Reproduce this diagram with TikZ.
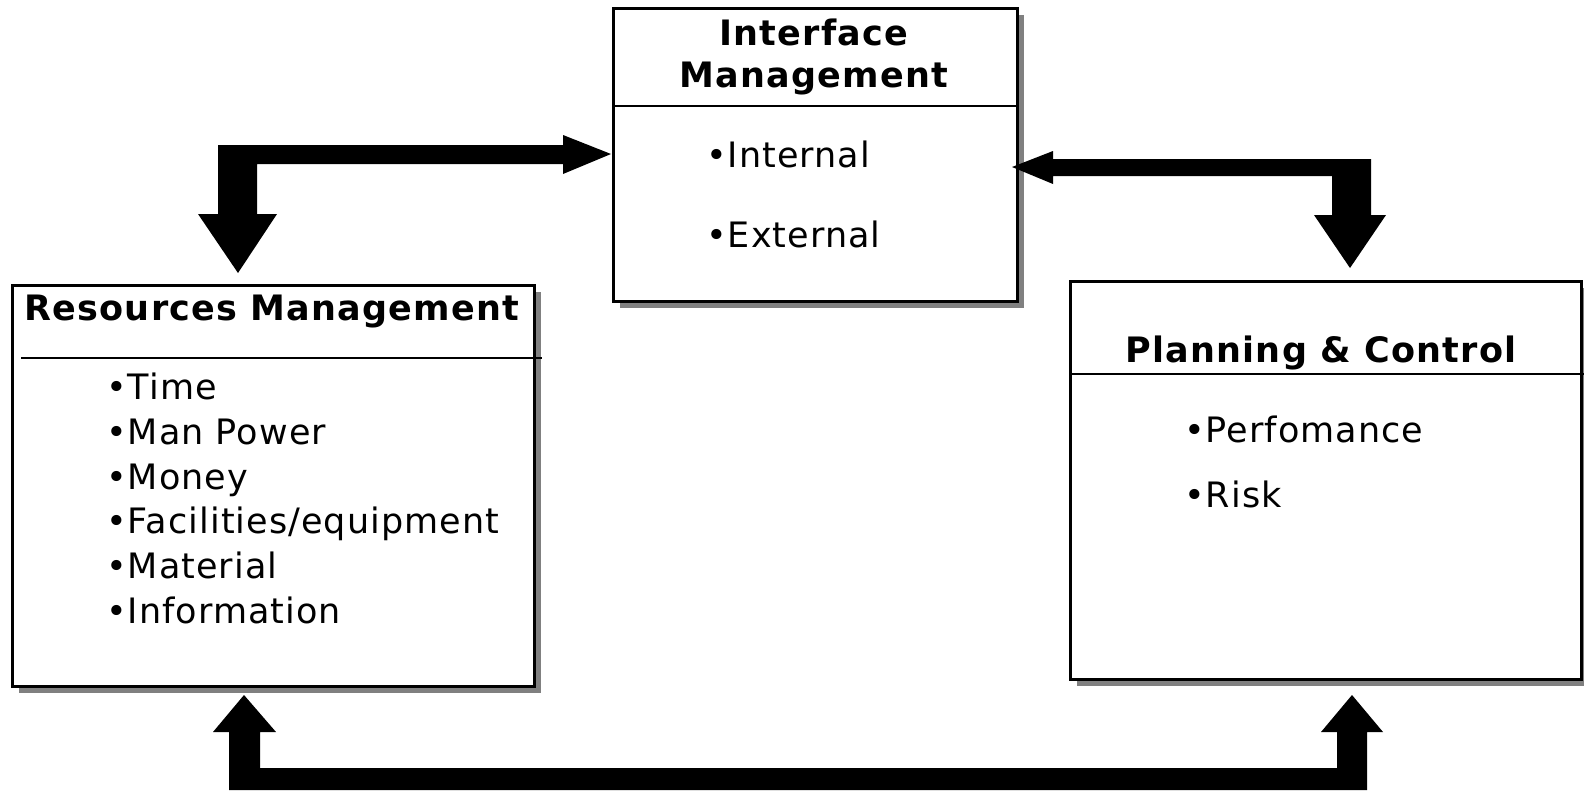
\documentclass[tikz,border=0pt]{standalone}
\usepackage{fontspec}
\setmainfont{DejaVu Sans}
\newfontfamily\itmfont[LetterSpace=3]{DejaVu Sans}
\newfontfamily\ttlfont[LetterSpace=3.5]{DejaVu Sans Bold}
\usetikzlibrary{shadows}
\begin{document}
\begin{tikzpicture}[x=1pt,y=-1pt,
  panel/.style={draw=black, line width=2.6pt, fill=white, inner sep=0pt, anchor=north west,
    drop shadow={shadow xshift=7pt, shadow yshift=-7pt, fill=black!50, opacity=1}},
  divider/.style={line width=2.2pt},
  blockarrow/.style={fill=black, draw=none},
  ttl/.style={font=\ttlfont\fontsize{35}{42}\selectfont, inner sep=0pt, anchor=base},
  itm/.style={font=\itmfont\fontsize{35}{45}\selectfont, inner sep=0pt, anchor=base west}]
\useasboundingbox (0,0) rectangle (1584,790);

% boxes
\node[panel, minimum width=404pt, minimum height=293pt] (im) at (612,7) {};
\node[panel, minimum width=522pt, minimum height=401pt] (rm) at (11,284) {};
\node[panel, minimum width=511pt, minimum height=398pt] (pc) at (1069,280) {};

% dividers
\draw[divider] (612,106) -- (1016,106);
\draw[divider] (21,358) -- (542,358);
\draw[divider] (1069,374) -- (1584,374);

% titles
\node[ttl] (imt1) at (814,45) {Interface};
\node[ttl] (imt2) at (814,87) {Management};
\node[ttl] (rmt) at (272,320) {Resources Management};
\node[ttl] (pct) at (1321,362) {Planning \& Control};

% items
\node[itm] (i1) at (706,167) {•Internal};
\node[itm] (i2) at (706,247) {•External};
\node[itm] (r1) at (106,399) {•Time};
\node[itm] (r2) at (106,444) {•Man Power};
\node[itm] (r3) at (106,489) {•Money};
\node[itm] (r4) at (106,533) {•Facilities/equipment};
\node[itm] (r5) at (106,578) {•Material};
\node[itm] (r6) at (106,623) {•Information};
\node[itm] (p1) at (1184,442) {•Perfomance};
\node[itm] (p2) at (1184,507) {•Risk};

% block arrows
\fill[blockarrow] (218,145) -- (563,145) -- (563,135) -- (611,154) -- (563,174) -- (563,164)
  -- (257,164) -- (257,214) -- (277,214) -- (238,273) -- (198,214) -- (218,214) -- cycle;
\fill[blockarrow] (1371,159) -- (1053,159) -- (1053,151) -- (1012,167) -- (1053,184) -- (1053,176)
  -- (1332,176) -- (1332,215) -- (1314,215) -- (1350,268) -- (1386,215) -- (1371,215) -- cycle;
\fill[blockarrow] (229,790) -- (229,732) -- (213,732) -- (244,695) -- (276,732) -- (260,732)
  -- (260,768) -- (1337,768) -- (1337,732) -- (1321,732) -- (1352,695) -- (1383,732) -- (1367,732)
  -- (1367,790) -- cycle;
\end{tikzpicture}
\end{document}
